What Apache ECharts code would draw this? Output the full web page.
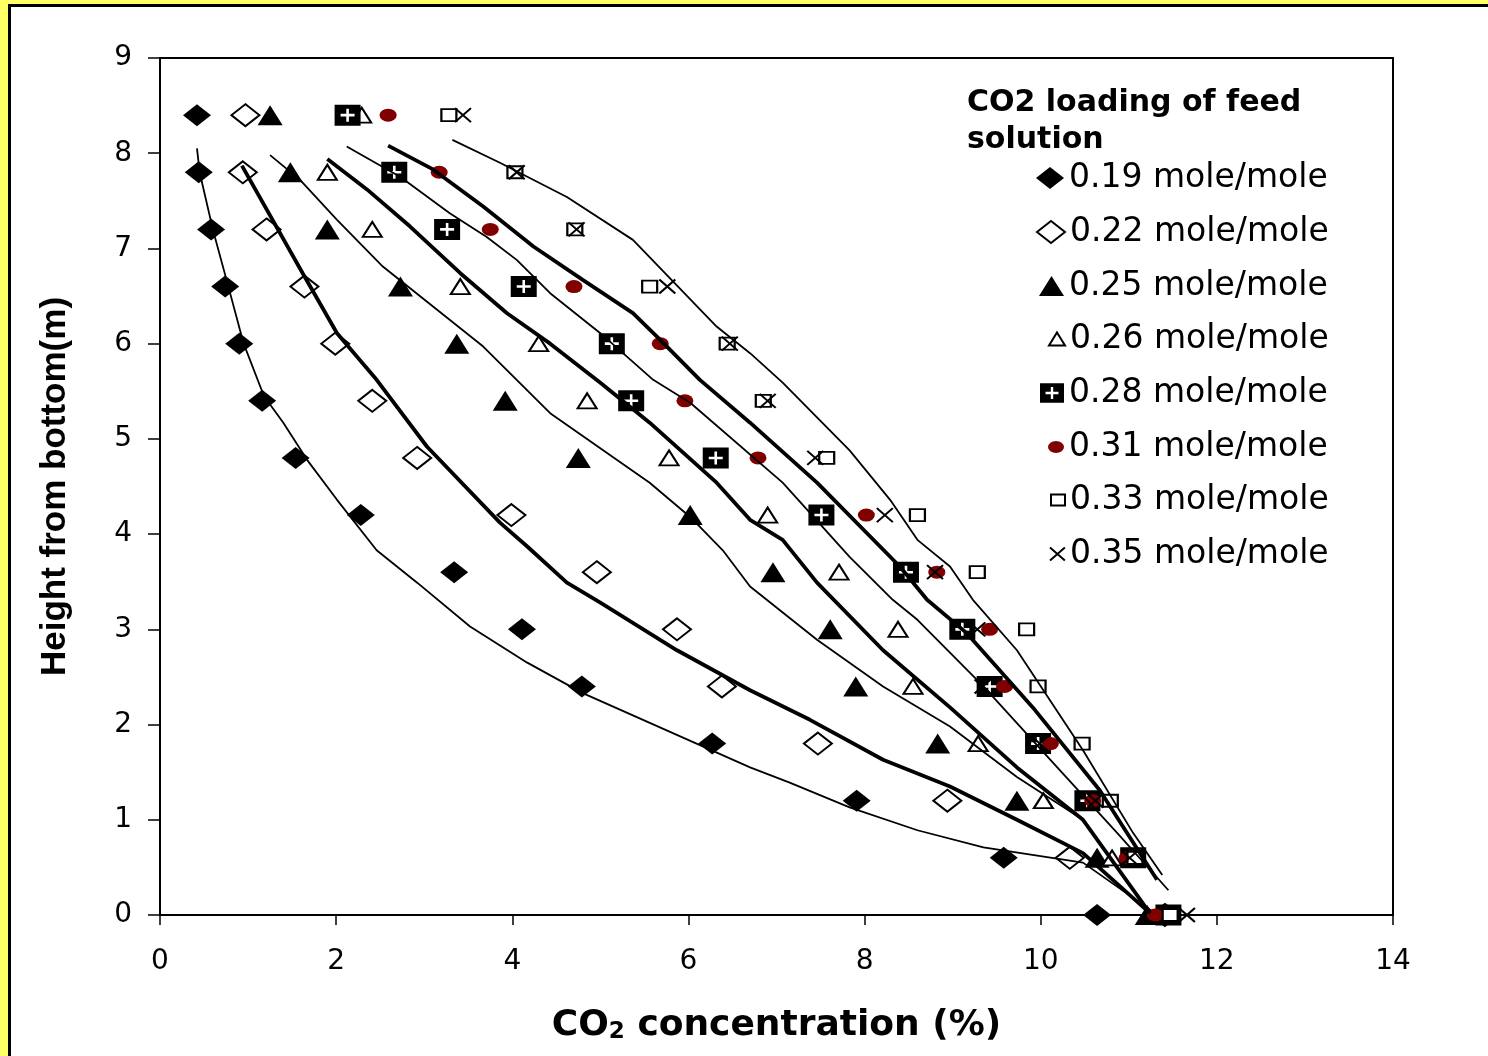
<!DOCTYPE html>
<html>
<head>
<meta charset="utf-8">
<title>CO2 concentration profile</title>
<script src="https://cdn.jsdelivr.net/npm/echarts@6/dist/echarts.min.js"></script>
<style>
html,body{margin:0;padding:0;background:#ffff66;overflow:hidden;width:1488px;height:1056px;}
#chart{position:absolute;left:8px;top:4px;width:1477px;height:1049px;border-left:3px solid #000;border-top:3px solid #000;background:#fff;}
</style>
</head>
<body>
<div id="chart"></div>
<script>
// heights (m) where concentration was measured
var heights = [8.4, 7.8, 7.2, 6.6, 6.0, 5.4, 4.8, 4.2, 3.6, 3.0, 2.4, 1.8, 1.2, 0.6, 0];

// measured CO2 concentration (%) for each feed loading
var conc019 = [0.42, 0.44, 0.58, 0.74, 0.90, 1.16, 1.54, 2.28, 3.34, 4.11, 4.79, 6.27, 7.91, 9.58, 10.64];
var conc022 = [0.97, 0.94, 1.21, 1.64, 1.99, 2.41, 2.92, 3.99, 4.96, 5.87, 6.38, 7.47, 8.94, 10.33, 11.41];
var conc025 = [1.25, 1.48, 1.90, 2.73, 3.37, 3.92, 4.75, 6.02, 6.96, 7.61, 7.90, 8.83, 9.73, 10.64, 11.21];
var conc026 = [2.29, 1.90, 2.41, 3.41, 4.30, 4.85, 5.78, 6.90, 7.71, 8.38, 8.55, 9.29, 10.03, 10.81, 11.41];
var conc028 = [2.13, 2.66, 3.26, 4.13, 5.13, 5.35, 6.31, 7.51, 8.47, 9.11, 9.42, 9.97, 10.53, 11.05, 11.45];
var conc031 = [2.59, 3.17, 3.75, 4.70, 5.68, 5.96, 6.79, 8.02, 8.82, 9.42, 9.59, 10.11, 10.59, 10.98, 11.30];
var conc033 = [3.28, 4.03, 4.71, 5.56, 6.44, 6.85, 7.57, 8.60, 9.28, 9.84, 9.97, 10.47, 10.79, 11.07, 11.47];
var conc035 = [3.44, 4.05, 4.73, 5.76, 6.47, 6.90, 7.44, 8.23, 8.80, 9.28, 9.34, 9.99, 10.62, 11.01, 11.66];

// model curves [concentration, height]
var fit019 = [[0.42,8.05],[0.45,7.80],[0.60,7.20],[0.77,6.62],[0.95,6.00],[1.18,5.45],[1.40,5.17],[1.67,4.78],[2.01,4.36],[2.46,3.83],[2.92,3.49],[3.52,3.03],[4.17,2.65],[4.80,2.33],[6.70,1.55],[7.15,1.39],[7.83,1.13],[8.60,0.89],[9.35,0.71],[10.48,0.55],[11.25,0.05]];
var fit022 = [[0.93,7.87],[1.62,6.74],[2.01,6.11],[2.46,5.62],[3.03,4.92],[3.86,4.12],[4.17,3.87],[4.62,3.49],[5.00,3.28],[5.87,2.78],[6.70,2.36],[7.38,2.05],[8.21,1.63],[8.97,1.35],[9.73,1.00],[10.48,0.65],[11.24,0.02]];
var fit025 = [[1.25,7.98],[1.59,7.72],[2.01,7.30],[2.53,6.81],[3.10,6.39],[3.67,5.97],[4.05,5.62],[4.43,5.27],[5.56,4.54],[6.02,4.18],[6.39,3.83],[6.70,3.45],[7.46,2.89],[8.21,2.40],[8.97,1.98],[9.73,1.45],[10.48,1.00],[11.24,0.02]];
var fit026 = [[1.90,7.94],[2.35,7.62],[2.84,7.23],[3.41,6.74],[3.94,6.32],[4.43,6.00],[5.00,5.59],[5.56,5.17],[6.32,4.54],[6.70,4.15],[7.07,3.94],[7.46,3.49],[8.21,2.78],[8.97,2.18],[9.73,1.55],[10.48,1.00],[11.24,0.02]];
var fit028 = [[2.12,8.07],[2.73,7.75],[3.29,7.37],[3.71,7.12],[4.05,6.88],[4.43,6.53],[5.00,6.11],[5.60,5.62],[6.02,5.38],[7.07,4.54],[7.83,3.76],[8.32,3.31],[8.60,3.10],[9.35,2.40],[10.11,1.63],[10.87,0.86],[11.45,0.26]];
var fit031 = [[2.59,8.08],[3.10,7.83],[3.67,7.44],[4.24,7.02],[4.80,6.67],[5.37,6.32],[5.68,6.04],[6.13,5.62],[6.70,5.17],[7.46,4.54],[8.40,3.66],[8.71,3.31],[9.16,2.96],[9.91,2.18],[10.67,1.31],[11.32,0.37]];
var fit033 = [[3.32,8.14],[3.86,7.90],[4.62,7.54],[5.37,7.09],[6.32,6.18],[6.70,5.90],[7.07,5.59],[7.83,4.88],[8.29,4.36],[8.60,3.94],[8.97,3.66],[9.23,3.31],[9.73,2.78],[10.48,1.73],[11.05,0.86],[11.38,0.42]];

var loadings = ['0.19 mole/mole','0.22 mole/mole','0.25 mole/mole','0.26 mole/mole','0.28 mole/mole','0.31 mole/mole','0.33 mole/mole','0.35 mole/mole'];
var measured = [conc019, conc022, conc025, conc026, conc028, conc031, conc033, conc035];
var fits = [fit019, fit022, fit025, fit026, fit028, fit031, fit033];
var fitWidth = [1.8, 3.8, 1.8, 3.8, 1.8, 3.8, 1.8];

var SQ_PLUS = 'path://M0,0H26V21H0Z M11.7,4V9.2H6V11.8H11.7V17H14.3V11.8H20V9.2H14.3V4Z';
var ELLIPSE = 'path://M0,6.5A8.5,6.5,0,1,0,17,6.5A8.5,6.5,0,1,0,0,6.5Z';
var CROSS = 'path://M0,0L16,14M16,0L0,14';

// marker look for each series: symbol, size, fill, border, legend icon box
var markers = [
  {symbol:'diamond', size:[28,22], color:'#000', border:0, lw:28, lh:22},
  {symbol:'diamond', size:[28,22], color:'#fff', border:2, lw:28, lh:22},
  {symbol:'triangle', size:[25,20], color:'#000', border:0, lw:25, lh:20},
  {symbol:'triangle', size:[19,15], color:'#fff', border:2, lw:16, lh:13},
  {symbol:SQ_PLUS, size:[26,21], color:'#000', border:0, lw:24, lh:20},
  {symbol:ELLIPSE, size:[17,13], color:'#800000', border:0, lw:16, lh:13},
  {symbol:'rect', size:[15,12], color:'#fff', border:2, lw:14, lh:11},
  {symbol:CROSS, size:[16,14], color:'rgba(0,0,0,0)', border:2, lw:15, lh:13}
];
var legendY = [178, 232, 286, 339, 393, 447, 500, 554];
var legendLine = 36;

var series = [];
for (var i = 0; i < loadings.length; i++) {
  var pts = [];
  for (var j = 0; j < heights.length; j++) {
    pts.push([measured[i][j], heights[j]]);
  }
  series.push({
    name: loadings[i],
    type: 'scatter',
    data: pts,
    symbol: markers[i].symbol,
    symbolSize: markers[i].size,
    itemStyle: {
      color: markers[i].color,
      borderColor: '#000',
      borderWidth: markers[i].border,
      opacity: 1
    },
    z: 2
  });
}
for (var k = 0; k < fits.length; k++) {
  series.push({
    name: 'model ' + k,
    type: 'line',
    data: fits[k],
    showSymbol: false,
    symbol: 'none',
    smooth: false,
    lineStyle: {color: '#000', width: fitWidth[k]},
    z: 3
  });
}

var legends = [];
for (var m = 0; m < loadings.length; m++) {
  legends.push({
    data: [loadings[m]],
    orient: 'vertical',
    padding: 0,
    left: 1053 - markers[m].lw,
    top: legendY[m] - 7 - legendLine / 2,
    itemWidth: markers[m].lw,
    itemHeight: markers[m].lh,
    selectedMode: false,
    textStyle: {fontFamily: 'DejaVu Sans', fontSize: 33, lineHeight: legendLine, color: '#000'}
  });
}

var myChart = echarts.init(document.getElementById('chart'));
var option = {
  animation: false,
  title: {
    text: 'CO2 loading of feed\nsolution',
    left: 956,
    top: 78,
    padding: 0,
    textStyle: {fontFamily: 'DejaVu Sans', fontWeight: 'bold', fontSize: 30, lineHeight: 37, color: '#000'}
  },
  legend: legends,
  grid: {
    left: 149, top: 51, width: 1233, height: 857,
    outerBoundsMode: 'none',
    show: true, borderColor: '#000', borderWidth: 2, backgroundColor: 'rgba(0,0,0,0)'
  },
  xAxis: {
    type: 'value', min: 0, max: 14, interval: 2,
    axisLine: {lineStyle: {color: '#000', width: 2}},
    axisTick: {show: true, inside: false, length: 10, lineStyle: {color: '#000', width: 1.5}},
    splitLine: {show: false},
    axisLabel: {margin: 33, fontFamily: 'DejaVu Sans', fontSize: 28, color: '#000'},
    name: '{a|CO}{s|2}{a| concentration (%)}',
    nameLocation: 'middle',
    nameGap: 92,
    nameTextStyle: {
      rich: {
        a: {fontFamily: 'DejaVu Sans', fontWeight: 'bold', fontSize: 36, color: '#000'},
        s: {fontFamily: 'DejaVu Sans', fontWeight: 'bold', fontSize: 23, color: '#000', padding: [14, 0, 0, 0]}
      }
    }
  },
  yAxis: {
    type: 'value', min: 0, max: 9, interval: 1,
    axisLine: {lineStyle: {color: '#000', width: 2}},
    axisTick: {show: true, inside: false, length: 12, lineStyle: {color: '#000', width: 1.5}},
    splitLine: {show: false},
    axisLabel: {margin: 28, fontFamily: 'DejaVu Sans', fontSize: 28, color: '#000'},
    name: 'Height from bottom(m)',
    nameLocation: 'middle',
    nameGap: 87,
    nameTextStyle: {fontFamily: 'Liberation Sans', fontWeight: 'bold', fontSize: 35, color: '#000'}
  },
  series: series
};
myChart.setOption(option);
</script>
</body>
</html>
